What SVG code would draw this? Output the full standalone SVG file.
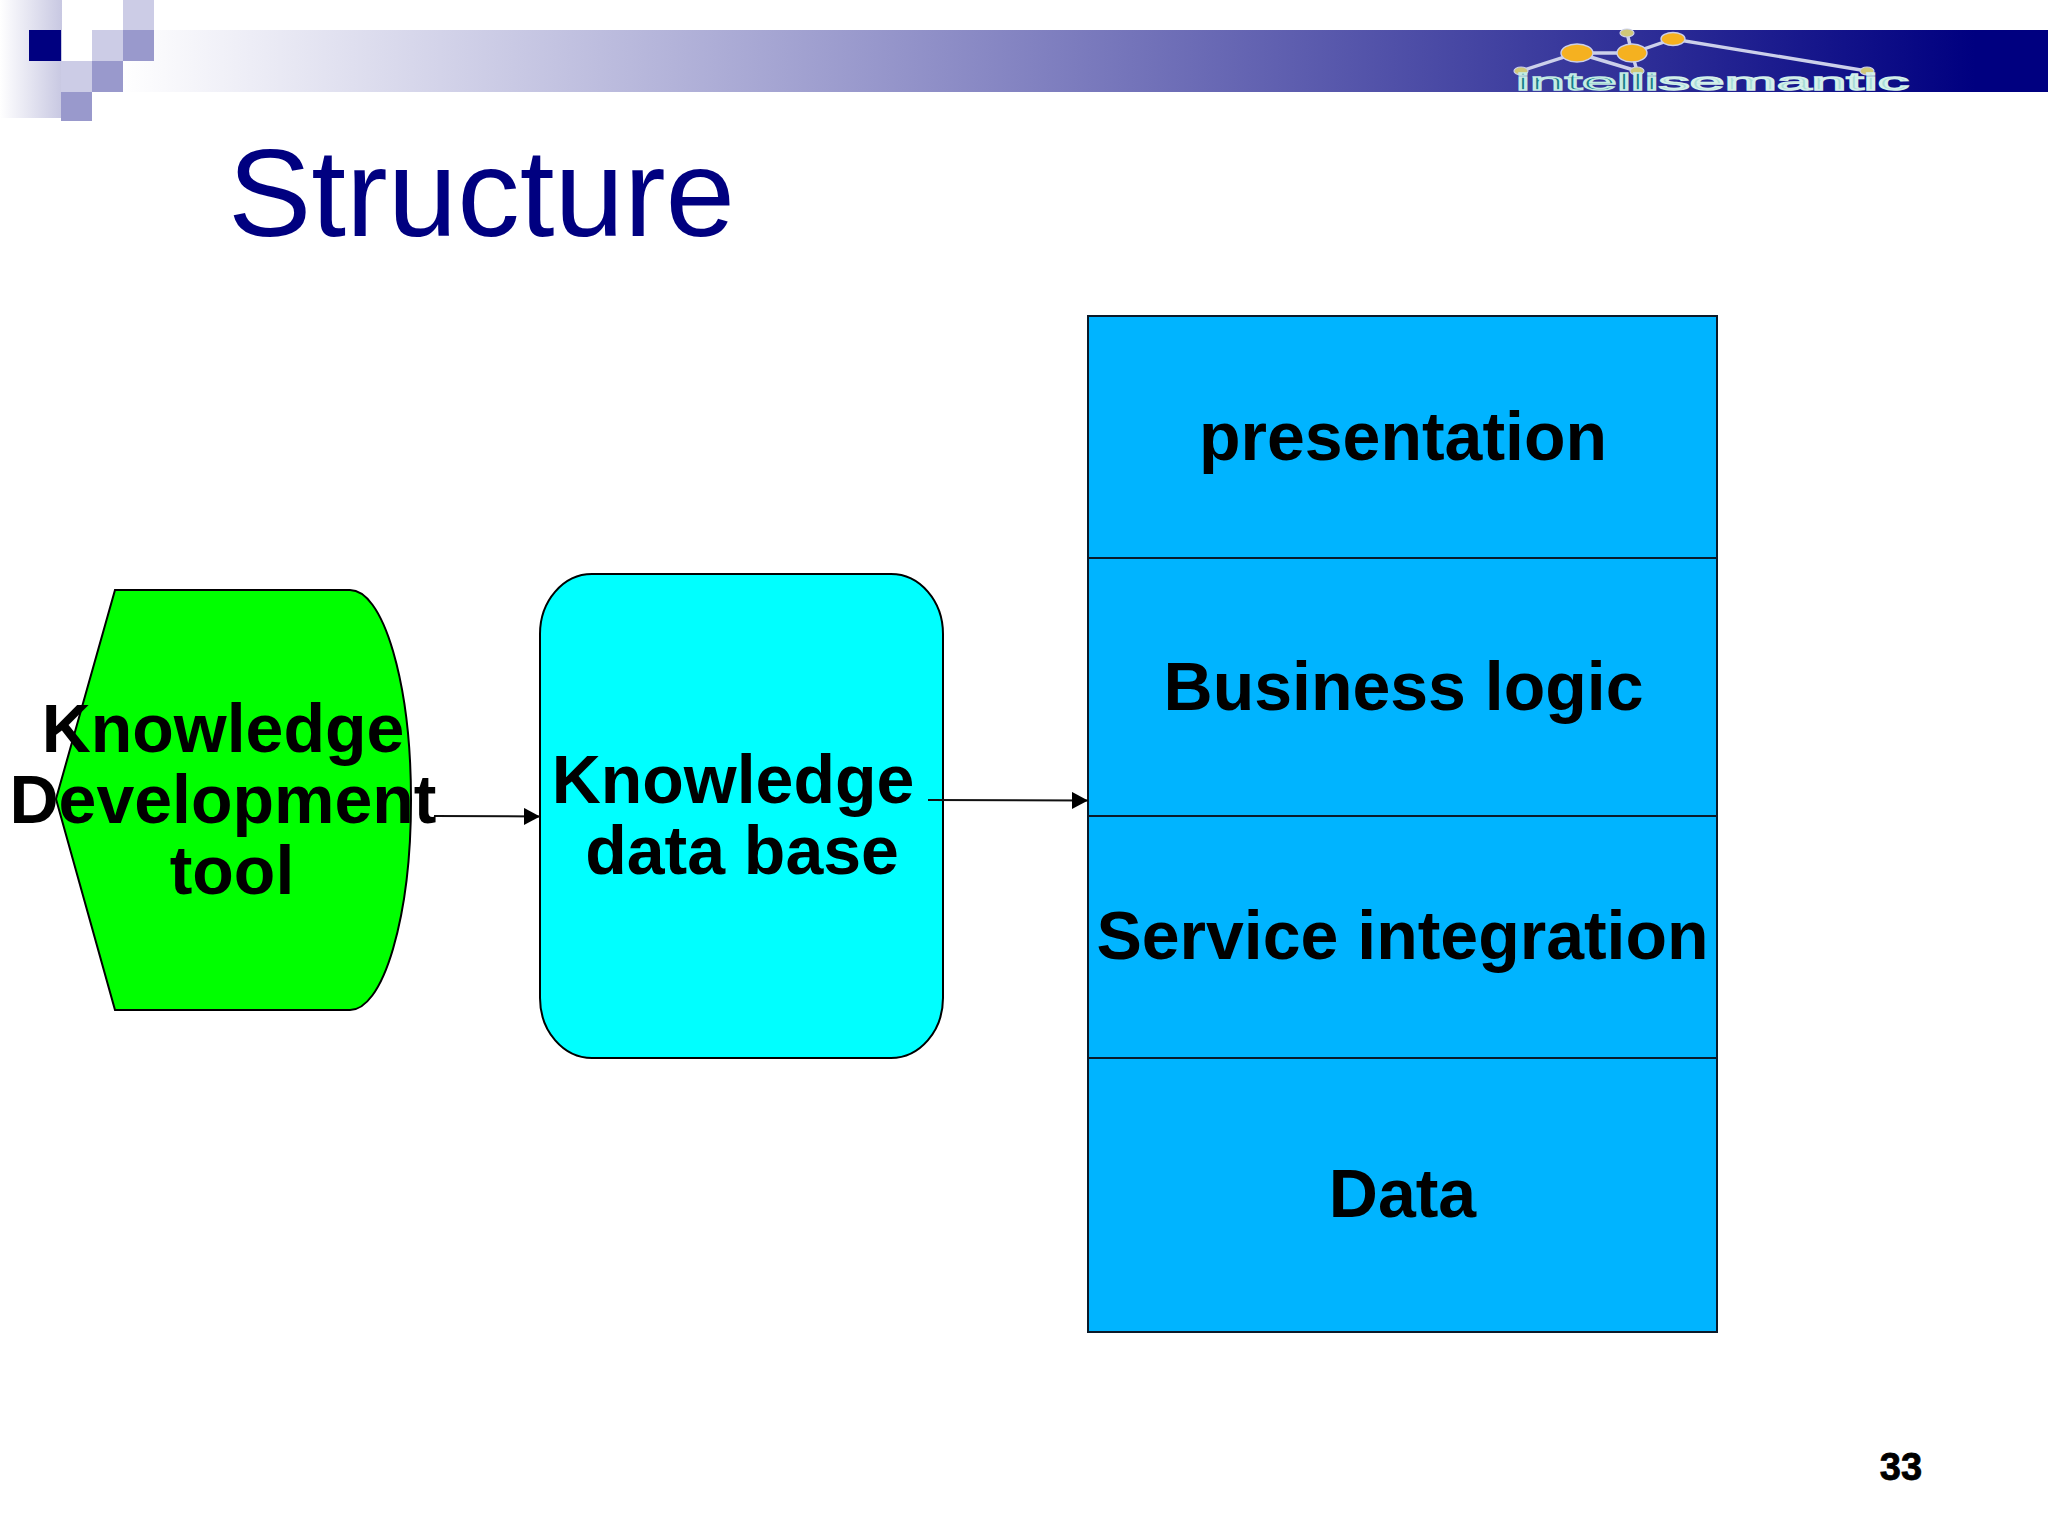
<svg xmlns="http://www.w3.org/2000/svg" width="2048" height="1536" viewBox="0 0 2048 1536">
<style>
.lbl{font-family:"Liberation Sans",Arial,sans-serif;font-weight:700;font-size:68px;fill:#000}
.shape{stroke:#000;stroke-width:2}
.tier{fill:#00b4ff;stroke:#0a1a2a;stroke-width:2}
.conn{stroke:#111;stroke-width:2;fill:none;marker-end:url(#arrow)}
.lt{fill:#cccce6}.md{fill:#9999cc}
.bond{stroke:#ccd0ea;stroke-width:3.4;fill:none}
.big{fill:#f5b120;stroke:#ccd0ea;stroke-width:1.4}
.small{fill:#cfc878;stroke:#ccd0ea;stroke-width:1.2}
</style>
<defs>
<linearGradient id="band" gradientUnits="userSpaceOnUse" x1="120" y1="0" x2="1975" y2="0">
<stop offset="0" stop-color="#ffffff"/><stop offset="1" stop-color="#000080"/>
</linearGradient>
<linearGradient id="strip" x1="0" y1="0" x2="1" y2="0">
<stop offset="0" stop-color="#ffffff"/><stop offset="1" stop-color="#c8c8e2"/>
</linearGradient>
<marker id="arrow" markerUnits="userSpaceOnUse" markerWidth="17" markerHeight="18" refX="16" refY="8.5" orient="auto">
<path d="M0 0L16 8.5L0 17Z" fill="#000"/>
</marker>
</defs>
<rect width="2048" height="1536" fill="#fff"/>
<g id="header">
<rect x="0" y="0" width="62" height="118" fill="url(#strip)"/>
<rect x="120" y="30" width="1928" height="62" fill="url(#band)"/>
<rect x="62" y="0" width="92" height="30" fill="#fff"/>
<rect x="62" y="30" width="30" height="31" fill="#fff"/>
<rect x="29" y="30" width="32" height="31" fill="#000080"/>
<rect class="lt" x="123" y="0" width="31" height="30"/>
<rect class="lt" x="92" y="30" width="31" height="31"/>
<rect class="md" x="123" y="30" width="31" height="31"/>
<rect class="lt" x="61" y="61" width="31" height="31"/>
<rect class="md" x="92" y="61" width="31" height="31"/>
<rect class="md" x="61" y="92" width="31" height="29"/>
</g>
<g id="logo">
<path class="bond" d="M1521 71L1577 53L1632 53L1673 39L1867 71M1577 53L1637 71M1632 53L1637 71M1627 33L1632 53"/>
<ellipse class="big" cx="1577" cy="53" rx="16" ry="9"/>
<ellipse class="big" cx="1632" cy="53" rx="15" ry="9"/>
<ellipse class="big" cx="1673" cy="39" rx="12" ry="6.5"/>
<ellipse class="small" cx="1627" cy="33" rx="7" ry="4"/>
<ellipse class="small" cx="1521" cy="71" rx="7" ry="4"/>
<ellipse class="small" cx="1637" cy="71" rx="7" ry="4"/>
<ellipse class="small" cx="1867" cy="71" rx="7" ry="4"/>
<text x="1516" y="90" font-family="Liberation Sans,sans-serif" font-size="24" textLength="393" lengthAdjust="spacingAndGlyphs" fill="#177a88" stroke="#c4ece4" stroke-width="1.3">intelli<tspan fill="#a8dcd8" stroke="#d4f0ea">semantic</tspan></text>
</g>
<g id="title">
<text x="228" y="236" font-family="Liberation Sans,Arial,sans-serif" font-size="125" fill="#000080">Structure</text>
</g>
<g id="knowledge-development-tool">
<path class="shape" fill="#00ff00" d="M115 590H350A61 210 0 0 1 350 1010H115L56 799Z"/>
</g>
<g id="knowledge-data-base">
<rect class="shape" fill="#00ffff" x="540" y="574" width="403" height="484" rx="52" ry="60"/>
</g>
<g id="presentation"><rect class="tier" x="1088" y="316" width="629" height="242"/></g>
<g id="business-logic"><rect class="tier" x="1088" y="558" width="629" height="258"/></g>
<g id="service-integration"><rect class="tier" x="1088" y="816" width="629" height="242"/></g>
<g id="data"><rect class="tier" x="1088" y="1058" width="629" height="274"/></g>
<g id="connectors">
<line class="conn" x1="434" y1="816" x2="540" y2="816.5"/>
<line class="conn" x1="928" y1="800" x2="1088" y2="800.5"/>
</g>
<g id="labels">
<text class="lbl" text-anchor="middle" x="223" y="751.5">Knowledge</text>
<text class="lbl" text-anchor="middle" x="223" y="822.5">Development</text>
<text class="lbl" text-anchor="middle" x="232" y="893.5">tool</text>
<text class="lbl" text-anchor="middle" x="733" y="802.5">Knowledge</text>
<text class="lbl" text-anchor="middle" x="742" y="873.5">data base</text>
<text class="lbl" text-anchor="middle" x="1403" y="459.5">presentation</text>
<text class="lbl" text-anchor="middle" x="1403.5" y="710">Business logic</text>
<text class="lbl" text-anchor="middle" x="1402.5" y="959">Service integration</text>
<text class="lbl" text-anchor="middle" x="1402.5" y="1217" font-size="67">Data</text>
</g>
<g id="page-number">
<text x="1901" y="1480" text-anchor="middle" font-family="Liberation Sans,Arial,sans-serif" font-weight="700" font-size="38" fill="#000" stroke="#000" stroke-width="0.8">33</text>
</g>
</svg>
